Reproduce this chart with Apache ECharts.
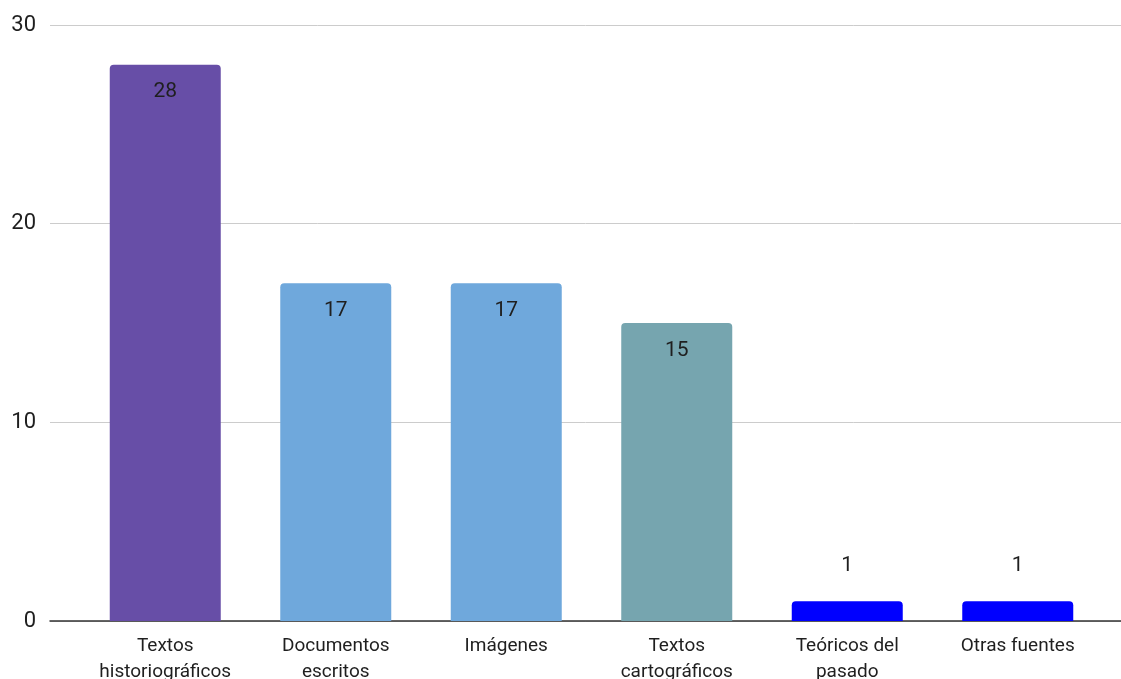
<!DOCTYPE html>
<html>
<head>
<meta charset="utf-8">
<style>
  html, body { margin: 0; padding: 0; background: #ffffff; }
  #chart { width: 1121px; height: 679px; }
</style>
<script src="https://cdn.jsdelivr.net/npm/echarts@6/dist/echarts.min.js"></script>
</head>
<body>
<div id="chart"></div>
<script>
// Fuentes consultadas por categoría
const categories = [
  'Textos\nhistoriográficos',
  'Documentos\nescritos',
  'Imágenes',
  'Textos\ncartográficos',
  'Teóricos del\npasado',
  'Otras fuentes'
];
const values = [28, 17, 17, 15, 1, 1];
const barColors = ['#674ea7', '#6fa8dc', '#6fa8dc', '#76a5af', '#0000ff', '#0000ff'];
const yTicks = [0, 10, 20, 30];

const FONT = 'Roboto, Arial, sans-serif';
const yMin = yTicks[0];
const yMax = yTicks[yTicks.length - 1];
const yStep = yTicks[1] - yTicks[0];

// Short bars carry their value above the bar, tall bars inside the top.
const barData = values.map((v, i) => ({
  value: v,
  itemStyle: { color: barColors[i] },
  label: v < 5
    ? { position: 'top', distance: 25 }
    : { position: 'insideTop', distance: 17 }
}));

const chart = echarts.init(document.getElementById('chart'), null, { renderer: 'canvas' });
chart.setOption({
  animation: false,
  backgroundColor: '#ffffff',
  textStyle: { fontFamily: FONT },
  grid: [
    // full-width frame for gridlines and baseline
    { left: 50, right: 0, top: 25, bottom: 58, outerBoundsMode: 'none', containLabel: false },
    // band where the bars sit
    { left: 80, right: 18, top: 25, bottom: 58, outerBoundsMode: 'none', containLabel: false }
  ],
  xAxis: [
    {
      gridIndex: 0, type: 'value', min: 0, max: 1,
      axisLine: { show: true, lineStyle: { color: '#333333', width: 1.5 } },
      axisTick: { show: false }, axisLabel: { show: false }, splitLine: { show: false }
    },
    {
      gridIndex: 1, type: 'category', data: categories,
      axisLine: { show: false }, axisTick: { show: false },
      axisLabel: {
        interval: 0, margin: 12, fontSize: 19, lineHeight: 26,
        color: '#1f1f1f', fontFamily: FONT
      }
    }
  ],
  yAxis: [
    {
      gridIndex: 0, type: 'value', min: yMin, max: yMax, interval: yStep,
      axisLine: { show: false }, axisTick: { show: false },
      axisLabel: {
        margin: 14, fontSize: 22, color: '#1f1f1f', fontFamily: FONT,
        padding: [4, 0, 0, 0]
      },
      splitLine: { lineStyle: { color: '#cccccc', width: 1 } }
    },
    {
      gridIndex: 1, type: 'value', min: yMin, max: yMax, interval: yStep, show: false,
      splitLine: { show: false }
    }
  ],
  series: [{
    type: 'bar',
    xAxisIndex: 1, yAxisIndex: 1,
    barWidth: 111,
    data: barData,
    itemStyle: { borderRadius: [4, 4, 0, 0] },
    label: { show: true, fontSize: 21, color: '#1f1f1f', fontFamily: FONT }
  }]
});
</script>
</body>
</html>
